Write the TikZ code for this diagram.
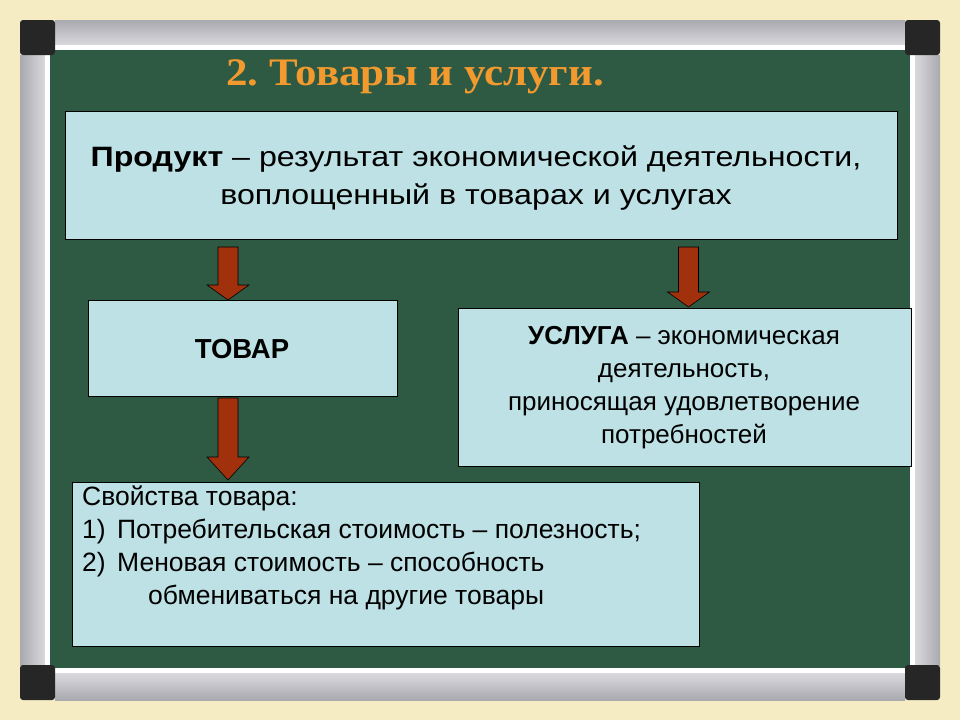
\documentclass[tikz,border=0pt]{standalone}
\usepackage{fontspec}
\setmainfont{Liberation Sans}
\newfontfamily\titlefont[FakeStretch=1.1]{Liberation Serif}
\newfontfamily\widefont[FakeStretch=1.15]{Liberation Sans}
\usetikzlibrary{calc}
\definecolor{bgcol}{HTML}{F6ECC4}
\definecolor{board}{HTML}{2E5A44}
\definecolor{boxfill}{HTML}{BDE1E4}
\definecolor{arrowred}{HTML}{A1300C}
\definecolor{titleor}{HTML}{F39A2E}
\definecolor{cornercol}{HTML}{262626}
\definecolor{raildark}{HTML}{A9A9B0}
\definecolor{raillight}{HTML}{E2E2E6}
\newcommand\dnarrow[4]{% center x, top y, head y, tip y
  \path[blockarrow] (#1-10,#2) -- (#1+10,#2) -- (#1+10,#3) -- (#1+21,#3)
    -- (#1,#4) -- (#1-21,#3) -- (#1-10,#3) -- cycle;}
\frenchspacing
\begin{document}
\begin{tikzpicture}[x=1pt,y=-1pt,
  infobox/.style={draw=black, line width=1pt, fill=boxfill, inner sep=0pt, anchor=north west},
  blockarrow/.style={draw=black, line width=0.6pt, fill=arrowred},
  cornerbox/.style={fill=cornercol, rounded corners=3pt}]
\useasboundingbox (0,0) rectangle (960,720);
\fill[bgcol] (0,0) rectangle (960,720);
% rails
\shade[top color=raildark, bottom color=raillight] (55,20) rectangle (905,50);
\fill[white] (55,45) rectangle (905,50);
\shade[top color=raillight, bottom color=raildark] (55,668) rectangle (905,700);
\fill[white] (55,668) rectangle (905,673);
\shade[left color=raildark, right color=raillight] (20,55) rectangle (50,665);
\fill[white] (45,55) rectangle (50,665);
\shade[left color=raillight, right color=raildark] (910,55) rectangle (940,665);
\fill[white] (910,55) rectangle (915,665);
% board
\fill[board] (50,50) rectangle (910,668);
% corners
\fill[cornerbox] (20,20) rectangle (55,55);
\fill[cornerbox] (905,20) rectangle (940,55);
\fill[cornerbox] (20,665) rectangle (55,700);
\fill[cornerbox] (905,665) rectangle (940,700);
% title
\node[font=\titlefont\bfseries\fontsize{39}{44}\selectfont, text=titleor] (title) at (415,77) {2. Товары и услуги.};
% boxes
\node[infobox, minimum width=832pt, minimum height=128pt] (prod) at (65,111) {};
\node[font=\widefont\fontsize{28}{38}\selectfont, align=center] (prodtext) at (476,178)
  {\textbf{Продукт} – результат экономической деятельности,\\воплощенный в товарах и услугах};
\node[infobox, minimum width=309pt, minimum height=96pt] (tovar) at (88,300) {};
\node[font=\bfseries\fontsize{27.5}{30}\selectfont] (tovartext) at (242,349) {ТОВАР};
\node[infobox, minimum width=453pt, minimum height=158pt] (usluga) at (458,308) {};
\node[font=\fontsize{26}{33}\selectfont, align=center] (uslugatext) at (684,388)
  {\textbf{УСЛУГА} – экономическая\\деятельность,\\приносящая удовлетворение\\потребностей};
\node[infobox, minimum width=627pt, minimum height=164pt] (props) at (72,482) {};
\node[font=\fontsize{26.5}{33}\selectfont, align=left, anchor=north west, inner sep=0pt] (propstext) at (82,486)
  {Свойства товара:\\
   \makebox[35pt][l]{1)}Потребительская стоимость – полезность;\\
   \makebox[35pt][l]{2)}Меновая стоимость – способность\\
   \hspace*{66pt}обмениваться на другие товары};
% arrows
\dnarrow{228}{247}{285}{300}
\dnarrow{688.5}{247}{292}{307}
\dnarrow{228}{398}{457}{480}
\end{tikzpicture}
\end{document}
